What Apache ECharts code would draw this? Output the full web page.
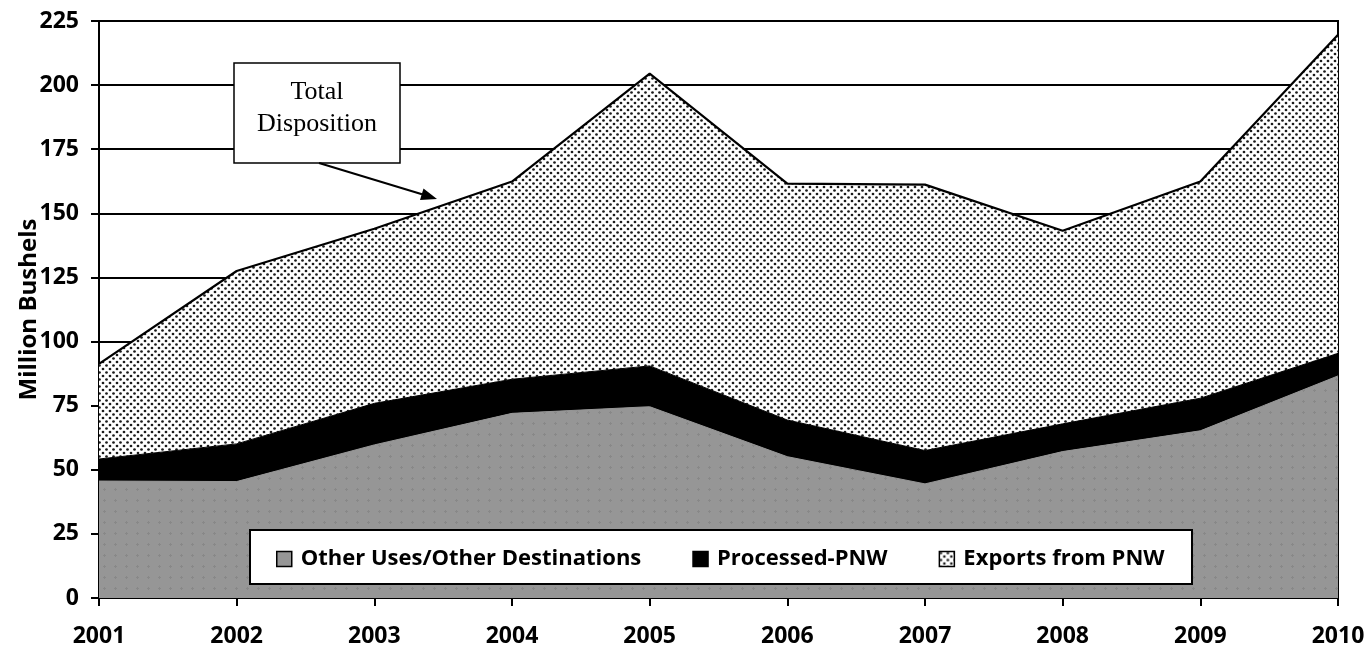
<!DOCTYPE html>
<html>
<head>
<meta charset="utf-8">
<script src="https://cdn.jsdelivr.net/npm/echarts@6/dist/echarts.min.js"></script>
<style>
  html, body { margin: 0; padding: 0; background: #fff; }
  #chart { width: 1366px; height: 648px; }
</style>
</head>
<body>
<div id="chart"></div>
<script>
// years on the x axis
let years = ["2001", "2002", "2003", "2004", "2005", "2006", "2007", "2008", "2009", "2010"];
// million bushels, stacked bottom to top
let otherUses = [45.6, 45.4, 59.7, 72.0, 74.6, 55.1, 44.5, 57.1, 65.2, 86.6];
let processedPNW = [8.6, 14.7, 16.2, 13.3, 15.9, 14.3, 13.0, 10.8, 12.7, 8.8];
let exportsPNW = [37.1, 67.4, 68.1, 77.1, 114.0, 92.2, 103.7, 75.3, 84.5, 124.2];

let seriesNames = ["Other Uses/Other Destinations", "Processed-PNW", "Exports from PNW"];

// dotted fill for exports
function makeDots() {
  let c = document.createElement("canvas");
  c.width = 7;
  c.height = 7;
  let ctx = c.getContext("2d");
  ctx.fillStyle = "#fff";
  ctx.fillRect(0, 0, 7, 7);
  ctx.fillStyle = "#1a1a1a";
  ctx.beginPath();
  ctx.arc(1.5, 1.5, 1.35, 0, Math.PI * 2);
  ctx.fill();
  ctx.beginPath();
  ctx.arc(5, 5, 1.35, 0, Math.PI * 2);
  ctx.fill();
  return c;
}

// gray fill with faint dots
function makeGray() {
  let c = document.createElement("canvas");
  c.width = 11;
  c.height = 11;
  let ctx = c.getContext("2d");
  ctx.fillStyle = "#969696";
  ctx.fillRect(0, 0, 11, 11);
  ctx.fillStyle = "#888";
  ctx.fillRect(5, 4, 1, 3);
  ctx.fillRect(4, 5, 3, 1);
  return c;
}

let dotFill = { image: makeDots(), repeat: "repeat" };
let grayFill = { image: makeGray(), repeat: "repeat" };

let font = "'Open Sans', 'DejaVu Sans', sans-serif";

let chart = echarts.init(document.getElementById("chart"), null, { renderer: "canvas" });

let option = {
  backgroundColor: "#fff",
  animation: false,
  textStyle: { fontFamily: font },
  grid: {
    left: 99,
    right: 28,
    top: 21,
    bottom: 50,
    outerBoundsMode: "none",
    containLabel: false,
    show: true,
    borderColor: "#000",
    borderWidth: 2,
    backgroundColor: "transparent"
  },
  legend: {
    z: 100,
    left: 276,
    top: 548,
    icon: "rect",
    itemWidth: 15,
    itemHeight: 15,
    itemGap: 51,
    padding: 0,
    textStyle: { fontFamily: font, fontWeight: "bold", fontSize: 22, color: "#000", padding: [0, 0, 0, 4] },
    data: [
      { name: seriesNames[0], itemStyle: { color: "#969696", borderColor: "#000", borderWidth: 1.5 } },
      { name: seriesNames[1], itemStyle: { color: "#000", borderColor: "#000", borderWidth: 1.5 } },
      { name: seriesNames[2], itemStyle: { color: dotFill, borderColor: "#000", borderWidth: 1.5 } }
    ]
  },
  xAxis: {
    type: "category",
    data: years,
    boundaryGap: false,
    axisLine: { lineStyle: { color: "#000", width: 2 } },
    axisTick: { length: 8, lineStyle: { color: "#000", width: 2 } },
    axisLabel: { margin: 27, color: "#000", fontWeight: "bold", fontSize: 23, fontFamily: font },
    splitLine: { show: false }
  },
  yAxis: {
    type: "value",
    min: 0,
    max: 225,
    interval: 25,
    name: "Million Bushels",
    nameLocation: "middle",
    nameGap: 58,
    nameMoveOverlap: false,
    nameTextStyle: { color: "#000", fontWeight: "bold", fontSize: 24, fontFamily: font },
    axisLine: { show: true, lineStyle: { color: "#000", width: 2 } },
    axisTick: { show: true, length: 8, lineStyle: { color: "#000", width: 2 } },
    axisLabel: { margin: 20, color: "#000", fontWeight: "bold", fontSize: 23, fontFamily: font },
    splitLine: { show: true, lineStyle: { color: "#000", width: 2 } }
  },
  series: [
    {
      name: seriesNames[0],
      type: "line",
      stack: "total",
      symbol: "none",
      data: otherUses,
      itemStyle: { color: "#969696" },
      lineStyle: { width: 1, color: "#969696" },
      areaStyle: { color: grayFill, opacity: 1 }
    },
    {
      name: seriesNames[1],
      type: "line",
      stack: "total",
      symbol: "none",
      data: processedPNW,
      itemStyle: { color: "#000" },
      lineStyle: { width: 1, color: "#000" },
      areaStyle: { color: "#000", opacity: 1 }
    },
    {
      name: seriesNames[2],
      type: "line",
      stack: "total",
      symbol: "none",
      data: exportsPNW,
      itemStyle: { color: dotFill },
      lineStyle: { width: 2.2, color: "#000" },
      areaStyle: { color: dotFill, opacity: 1 }
    }
  ],
  graphic: [
    // legend frame
    {
      type: "rect",
      z: 50,
      shape: { x: 250, y: 530, width: 942, height: 54 },
      style: { fill: "#fff", stroke: "#000", lineWidth: 2 }
    },
    // callout box
    {
      type: "rect",
      z: 90,
      shape: { x: 234, y: 63, width: 166, height: 100 },
      style: { fill: "#fff", stroke: "#000", lineWidth: 1.5 }
    },
    {
      type: "text",
      z: 91,
      style: {
        x: 317, y: 108,
        text: "Total\nDisposition",
        align: "center",
        verticalAlign: "middle",
        fontFamily: "'Liberation Serif', 'Times New Roman', serif",
        fontSize: 26,
        lineHeight: 32,
        fill: "#000"
      }
    },
    {
      type: "line",
      z: 91,
      shape: { x1: 319, y1: 163, x2: 422, y2: 194.3 },
      style: { stroke: "#000", lineWidth: 2 }
    },
    {
      type: "polygon",
      z: 91,
      shape: { points: [[437, 199], [423.5, 188.6], [420, 200]] },
      style: { fill: "#000" }
    }
  ]
};

chart.setOption(option);
</script>
</body>
</html>
